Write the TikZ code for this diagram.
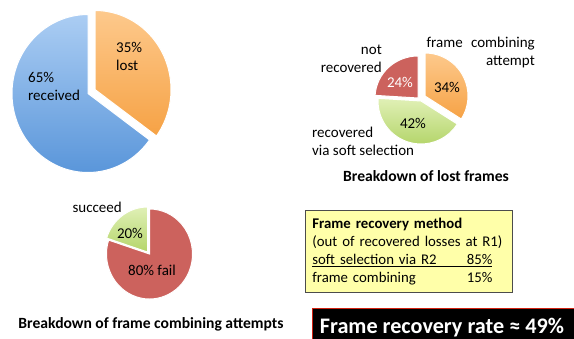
\documentclass[tikz,border=0pt]{standalone}
\usepackage{fontspec}
\setmainfont{Carlito}
\definecolor{blueT}{HTML}{ABCDF3}
\definecolor{blueB}{HTML}{5A96DA}
\definecolor{orangeT}{HTML}{FDC98C}
\definecolor{orangeB}{HTML}{F6A245}
\definecolor{redS}{HTML}{CC625D}
\definecolor{greenT}{HTML}{E0F0B6}
\definecolor{greenB}{HTML}{B4D56A}
\definecolor{boxY}{HTML}{FFFFA9}
\definecolor{boxRed}{HTML}{D02010}
\newcommand\pieslice[7]{%
  \path[#1] (#2,#3) -- ++({cos(#6)*#4},{-sin(#6)*#5})
    arc[start angle=-#6, end angle=-#7, x radius=#4, y radius=#5] -- cycle;}
\tikzset{
  lbl/.style={font=\fontsize{15}{18}\selectfont, inner sep=0pt},
  ttl/.style={font=\fontsize{15.6}{18}\selectfont\bfseries, inner sep=0pt},
  slice/.style={draw=white, line width=1pt},
  blueslice/.style={slice, top color=blueT, bottom color=blueB},
  orangeslice/.style={slice, top color=orangeT, bottom color=orangeB},
  greenslice/.style={slice, top color=greenT, bottom color=greenB},
  redslice/.style={slice, fill=redS},
}
\begin{document}
\begin{tikzpicture}[x=1pt, y=-1pt]
\useasboundingbox (0,0) rectangle (574,338);
% big pie
\pieslice{blueslice}{88}{93.5}{76}{79}{90}{324}
\pieslice{orangeslice}{95}{89.5}{76}{79}{324}{450}
\node[lbl, align=left, anchor=west] (n65) at (28,86) {65\%\\received};
\node[lbl, align=left, anchor=west] (n35) at (116,56) {35\%\\lost};
% top-right pie
\pieslice{greenslice}{421}{101}{43}{43}{176.4}{327.6}
\pieslice{redslice}{418}{98}{43}{42}{90}{176.4}
\pieslice{orangeslice}{425}{96}{43}{43}{327.6}{450}
\node[lbl, text=white, anchor=base] (n24) at (400,87) {24\%};
\node[lbl, anchor=base] (n34) at (447,92) {34\%};
\node[lbl, anchor=base] (n42) at (413,128) {42\%};
\node[lbl, align=right, anchor=east] (nnot) at (382,58.5) {not\\recovered};
\node[lbl, align=right, anchor=east] (nframe) at (535,52.5) {frame\hspace{5pt} combining\\attempt};
\node[lbl, align=left, anchor=west] (nrec) at (312,141) {recovered\\via soft selection};
\node[ttl, anchor=base] (t1) at (426,181) {Breakdown of lost frames};
% bottom pie
\pieslice{redslice}{149.5}{254}{43}{45}{162}{450}
\pieslice{greenslice}{147.5}{252}{43}{45}{90}{162}
\node[lbl, anchor=base east] (nsucc) at (122,212) {succeed};
\node[lbl, anchor=base] (n20) at (130,238) {20\%};
\node[lbl, anchor=base] (n80) at (152,275) {80\% fail};
\node[ttl, anchor=base] (t2) at (151,328) {Breakdown of frame combining attempts};
% yellow box
\node[draw=black!70, fill=boxY, line width=0.8pt, anchor=north west,
      minimum width=207pt, minimum height=82pt, text width=193pt,
      inner xsep=7pt, inner ysep=0pt, align=left,
      font=\fontsize{14.8}{17.8}\selectfont] (ybox) at (305,210)
  {\textbf{Frame recovery method}\\
   (out of recovered losses at R1)\\
   \underline{\makebox[180pt][l]{soft selection via R2\hfill 85\%}}\\
   \makebox[180pt][l]{frame combining\hfill 15\%}};
% black box
\node[draw=boxRed, fill=black, line width=1pt, anchor=north west,
      minimum width=264pt, minimum height=32pt, inner sep=0pt] (bbox) at (312,308) {};
\node[font=\fontsize{22.2}{26}\selectfont\bfseries, text=white, inner sep=0pt, anchor=base]
  (rate) at (442,333.5) {Frame recovery rate ≈ 49\%};
\end{tikzpicture}
\end{document}
